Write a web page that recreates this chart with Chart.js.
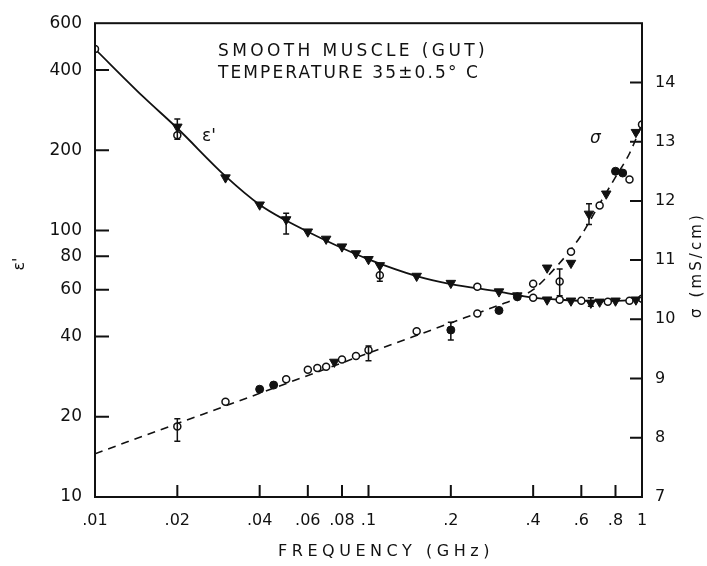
<!DOCTYPE html>
<html>
<head>
<meta charset="utf-8">
<script src="https://cdn.jsdelivr.net/npm/chart.js@4.4.1/dist/chart.umd.min.js"></script>
<style>
  html, body { margin: 0; padding: 0; background: #fff; }
</style>
</head>
<body>
<canvas id="c" width="707" height="566"></canvas>
<script>
// axes
const freqTicks = [0.01, 0.02, 0.04, 0.06, 0.08, 0.1, 0.2, 0.4, 0.6, 0.8, 1];
const freqTickLabels = ['.01', '.02', '.04', '.06', '.08', '.1', '.2', '.4', '.6', '.8', '1'];
const epsTicks = [10, 20, 40, 60, 80, 100, 200, 400, 600];
const sigTicks = [7, 8, 9, 10, 11, 12, 13, 14];

// epsilon' fitted curve (solid)
const epsCurveF = [0.01, 0.015, 0.02, 0.03, 0.04, 0.05, 0.06, 0.08, 0.1, 0.15, 0.2, 0.3, 0.4, 0.5, 0.6, 0.8, 1];
const epsCurveV = [480, 318, 242, 160, 125, 109, 99, 86, 78, 67.5, 63, 59, 56, 55, 54.5, 54.5, 55];
// epsilon' measured points
const epsTriF = [0.02, 0.03, 0.04, 0.05, 0.06, 0.07, 0.08, 0.09, 0.1, 0.11, 0.15, 0.2, 0.3, 0.35, 0.45, 0.55, 0.65, 0.7, 0.8, 0.95];
const epsTriV = [245, 158, 125, 110, 99, 93, 87, 82, 78, 74, 67.5, 63.5, 59, 57, 55, 54.5, 53.5, 54, 54.5, 55];
const epsCircF = [0.01, 0.02, 0.11, 0.25, 0.4, 0.5, 0.6, 0.75, 0.9, 1];
const epsCircV = [480, 228, 68, 61.5, 56, 55, 54.5, 54, 54.5, 55.5];
const epsErrF = [0.02, 0.05, 0.11, 0.65];
const epsErrLo = [220, 97, 64.5, 52];
const epsErrHi = [262, 116, 74, 56];

// sigma fitted curve (dashed)
const sigCurveF = [0.01, 0.02, 0.04, 0.1, 0.2, 0.3, 0.35, 0.4, 0.45, 0.5, 0.55, 0.6, 0.7, 0.8, 0.9, 1];
const sigCurveV = [7.73, 8.24, 8.75, 9.43, 9.94, 10.24, 10.36, 10.5, 10.72, 10.95, 11.18, 11.42, 11.95, 12.4, 12.8, 13.3];
// sigma measured points
const sigOpenF = [0.02, 0.03, 0.05, 0.06, 0.065, 0.07, 0.08, 0.09, 0.1, 0.15, 0.25, 0.4, 0.5, 0.55, 0.7, 0.9, 1];
const sigOpenV = [8.19, 8.61, 8.99, 9.15, 9.18, 9.2, 9.32, 9.38, 9.48, 9.8, 10.1, 10.6, 10.64, 11.14, 11.92, 12.36, 13.29];
const sigDotF = [0.04, 0.045, 0.2, 0.3, 0.35, 0.8, 0.85];
const sigDotV = [8.82, 8.89, 9.82, 10.15, 10.38, 12.5, 12.47];
const sigTriF = [0.075, 0.45, 0.55, 0.64, 0.74, 0.95];
const sigTriV = [9.28, 10.87, 10.95, 11.78, 12.12, 13.16];
const sigErrF = [0.02, 0.1, 0.2, 0.5, 0.64];
const sigErrLo = [7.94, 9.3, 9.65, 10.4, 11.6];
const sigErrHi = [8.32, 9.55, 9.95, 10.85, 11.95];

const INK = '#111';
const FONT = '"DejaVu Sans", sans-serif';

function pts(f, v) {
    return f.map((x, i) => ({ x: x, y: v[i] }));
}

// draws text with a letter spacing so it fills a given width
function spacedText(ctx, txt, x, y, width) {
    ctx.letterSpacing = '0px';
    const w = ctx.measureText(txt).width;
    const sp = Math.max(0, (width - w) / txt.length);
    ctx.letterSpacing = sp.toFixed(2) + 'px';
    ctx.fillText(txt, x, y);
    ctx.letterSpacing = '0px';
}

const deco = {
    id: 'deco',
    afterDatasetsDraw(chart) {
        const { ctx, scales } = chart;
        ctx.save();
        ctx.strokeStyle = INK;
        ctx.lineWidth = 1.5;
        const bar = (sx, sy, f, lo, hi) => {
            const px = sx.getPixelForValue(f);
            const a = sy.getPixelForValue(lo), b = sy.getPixelForValue(hi);
            ctx.beginPath();
            ctx.moveTo(px, a); ctx.lineTo(px, b);
            ctx.moveTo(px - 3, a); ctx.lineTo(px + 3, a);
            ctx.moveTo(px - 3, b); ctx.lineTo(px + 3, b);
            ctx.stroke();
        };
        epsErrF.forEach((f, i) => bar(scales.x, scales.y, f, epsErrLo[i], epsErrHi[i]));
        sigErrF.forEach((f, i) => bar(scales.x, scales.y2, f, sigErrLo[i], sigErrHi[i]));
        ctx.restore();
    },
    afterDraw(chart) {
        const { ctx, chartArea: a, scales } = chart;
        ctx.save();
        ctx.strokeStyle = INK;
        ctx.fillStyle = INK;
        ctx.lineWidth = 2;
        ctx.strokeRect(a.left, a.top, a.right - a.left, a.bottom - a.top);

        // inward tick marks
        ctx.beginPath();
        freqTicks.slice(1, -1).forEach(v => {
            const p = scales.x.getPixelForValue(v);
            ctx.moveTo(p, a.bottom); ctx.lineTo(p, a.bottom - 12);
        });
        epsTicks.slice(1, -1).forEach(v => {
            const p = scales.y.getPixelForValue(v);
            ctx.moveTo(a.left, p); ctx.lineTo(a.left + 14, p);
        });
        sigTicks.slice(1).forEach(v => {
            const p = scales.y2.getPixelForValue(v);
            ctx.moveTo(a.right, p); ctx.lineTo(a.right - 12, p);
        });
        ctx.stroke();

        // annotations
        ctx.textBaseline = 'middle';
        ctx.textAlign = 'left';
        ctx.font = '17px ' + FONT;
        spacedText(ctx, 'SMOOTH MUSCLE (GUT)', 218, 52, 270);
        spacedText(ctx, 'TEMPERATURE 35±0.5° C', 218, 74, 262);

        ctx.font = '17px ' + FONT;
        ctx.fillText("ε'", 202, 137);
        ctx.font = 'italic 17px ' + FONT;
        ctx.fillText('σ', 590, 139);

        // axis titles
        ctx.font = '16px ' + FONT;
        spacedText(ctx, 'FREQUENCY (GHz)', 278, 552, 216);

        ctx.save();
        ctx.translate(20, 264);
        ctx.rotate(-Math.PI / 2);
        ctx.textAlign = 'center';
        ctx.font = '16px ' + FONT;
        ctx.fillText("ε'", 0, 0);
        ctx.restore();

        ctx.save();
        ctx.translate(697, 266);
        ctx.rotate(-Math.PI / 2);
        ctx.font = '15px ' + FONT;
        spacedText(ctx, 'σ (mS/cm)', -52, 0, 106);
        ctx.restore();

        ctx.restore();
    }
};

const tickFont = { family: FONT, size: 16 };

new Chart(document.getElementById('c'), {
    type: 'line',
    data: {
        datasets: [
            {
                data: pts(epsCurveF, epsCurveV), yAxisID: 'y', order: 10,
                borderColor: INK, borderWidth: 1.8, pointRadius: 0,
                cubicInterpolationMode: 'monotone', fill: false
            },
            {
                data: pts(sigCurveF, sigCurveV), yAxisID: 'y2', order: 10,
                borderColor: INK, borderWidth: 1.6, borderDash: [8, 6], pointRadius: 0,
                cubicInterpolationMode: 'monotone', fill: false
            },
            {
                data: pts(epsTriF, epsTriV), yAxisID: 'y', order: 1, showLine: false,
                pointStyle: 'triangle', rotation: 180, pointRadius: 5.5,
                pointBackgroundColor: INK, pointBorderColor: INK, pointBorderWidth: 1
            },
            {
                data: pts(epsCircF, epsCircV), yAxisID: 'y', order: 1, showLine: false,
                pointStyle: 'circle', pointRadius: 3.5,
                pointBackgroundColor: '#fff', pointBorderColor: INK, pointBorderWidth: 1.5
            },
            {
                data: pts(sigOpenF, sigOpenV), yAxisID: 'y2', order: 1, showLine: false,
                pointStyle: 'circle', pointRadius: 3.5,
                pointBackgroundColor: '#fff', pointBorderColor: INK, pointBorderWidth: 1.5
            },
            {
                data: pts(sigDotF, sigDotV), yAxisID: 'y2', order: 1, showLine: false,
                pointStyle: 'circle', pointRadius: 4,
                pointBackgroundColor: INK, pointBorderColor: INK, pointBorderWidth: 1
            },
            {
                data: pts(sigTriF, sigTriV), yAxisID: 'y2', order: 1, showLine: false,
                pointStyle: 'triangle', rotation: 180, pointRadius: 5.5,
                pointBackgroundColor: INK, pointBorderColor: INK, pointBorderWidth: 1
            }
        ]
    },
    options: {
        responsive: false,
        animation: false,
        layout: { padding: { top: 15, left: 0, right: 0, bottom: 0 } },
        plugins: { legend: { display: false }, tooltip: { enabled: false } },
        scales: {
            x: {
                type: 'logarithmic', min: 0.01, max: 1,
                afterFit(s) { s.height = 69; },
                afterBuildTicks(s) { s.ticks = freqTicks.map(v => ({ value: v })); },
                grid: { display: false, drawTicks: false },
                border: { display: false },
                ticks: {
                    autoSkip: false, maxRotation: 0, padding: 14, color: INK, font: tickFont,
                    callback: (v, i) => freqTickLabels[i]
                }
            },
            y: {
                type: 'logarithmic', position: 'left', min: 10, max: 600,
                afterFit(s) { s.width = 95; },
                afterBuildTicks(s) { s.ticks = epsTicks.map(v => ({ value: v })); },
                grid: { display: false, drawTicks: false },
                border: { display: false },
                ticks: {
                    autoSkip: false, padding: 13, color: INK, font: { family: FONT, size: 17 },
                    callback: v => String(v)
                }
            },
            y2: {
                type: 'linear', position: 'right', min: 7, max: 15,
                afterFit(s) { s.width = 65; },
                afterBuildTicks(s) { s.ticks = sigTicks.map(v => ({ value: v })); },
                grid: { display: false, drawTicks: false },
                border: { display: false },
                ticks: {
                    autoSkip: false, padding: 13, color: INK, font: tickFont,
                    callback: v => String(v)
                }
            }
        }
    },
    plugins: [deco]
});
</script>
</body>
</html>
